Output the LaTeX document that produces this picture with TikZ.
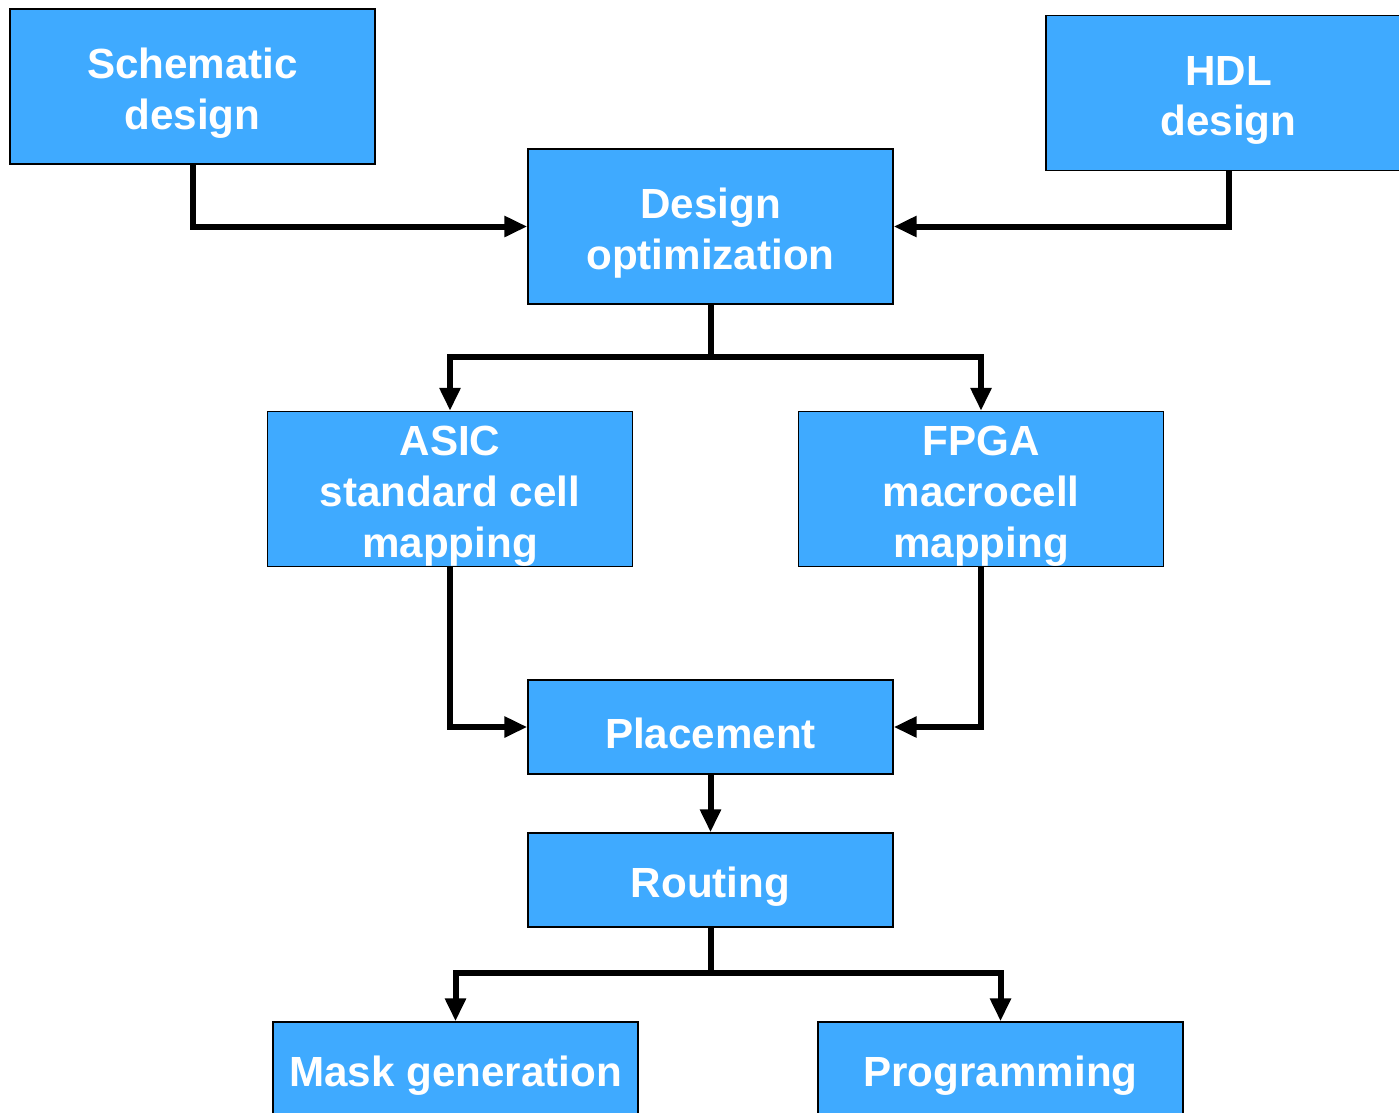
\documentclass[tikz,border=0pt]{standalone}
\usepackage{fontspec}
\setmainfont{Liberation Sans}
\usetikzlibrary{arrows.meta}
\definecolor{boxblue}{HTML}{3FAAFF}
\newcommand{\lift}{\rule{0pt}{25pt}}
\tikzset{
    stage/.style={shape=rectangle,draw=black,line width=0.8pt,fill=boxblue,
        text=white,font=\fontsize{24}{29}\selectfont\bfseries,align=center,
        minimum width=7.3cm,minimum height=3.1cm,inner sep=0pt},
    flat/.style={stage,minimum height=1.88cm},
    flow/.style={line width=0.12cm,-{Triangle[length=0.46cm,width=0.4cm]}}
}
\begin{document}
\begin{tikzpicture}
    \useasboundingbox (0,0) rectangle (27.98,-22.24);
    \node[stage] (schem) at (3.85,-1.73) {\lift Schematic\\design};
    \node[stage] (hdl) at (24.57,-1.86) {\lift HDL\\design};
    \node[stage] (opt) at (14.21,-4.53) {\lift Design\\optimization};
    \node[stage] (asic) at (9.0,-9.78) {\lift ASIC\\standard cell\\mapping};
    \node[stage] (fpga) at (19.62,-9.78) {\lift FPGA\\macrocell\\mapping};
    \node[flat] (place) at (14.21,-14.54) {\lift Placement};
    \node[flat] (route) at (14.21,-17.6) {\lift Routing};
    \node[flat] (mask) at (9.11,-21.38) {\lift Mask generation};
    \node[flat] (prog) at (20.01,-21.38) {\lift Programming};

    \coordinate (split1) at (14.21,-7.14);
    \coordinate (split2) at (14.21,-19.46);

    \draw [flow] (schem.south) |- (opt.west);
    \draw [flow] (hdl.south) |- (opt.east);
    \draw [line width=0.12cm] (opt.south) -- (split1);
    \draw [flow] (split1) -| (asic.north);
    \draw [flow] (split1) -| (fpga.north);
    \draw [flow] (asic.south) |- (place.west);
    \draw [flow] (fpga.south) |- (place.east);
    \draw [flow] (place.south) -- (route.north);
    \draw [line width=0.12cm] (route.south) -- (split2);
    \draw [flow] (split2) -| (mask.north);
    \draw [flow] (split2) -| (prog.north);
\end{tikzpicture}
\end{document}
